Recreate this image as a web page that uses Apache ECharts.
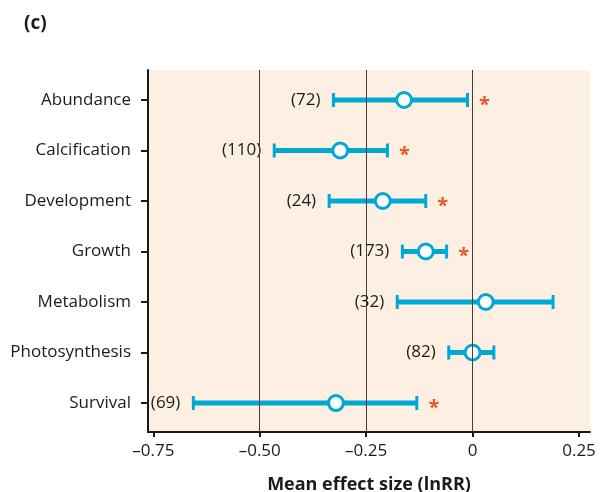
<!DOCTYPE html>
<html><head><meta charset="utf-8">
<script src="https://cdn.jsdelivr.net/npm/echarts@6/dist/echarts.min.js"></script>
<style>html,body{margin:0;padding:0;background:#fff}#c{width:613px;height:492px}</style>
</head><body><div id="c"></div>
<script>
const categories = ['Abundance','Calcification','Development','Growth','Metabolism','Photosynthesis','Survival'];
const meanValues = [-0.161, -0.311, -0.211, -0.110, 0.031, 0.000, -0.321];
const lowerValues = [-0.327, -0.466, -0.337, -0.165, -0.177, -0.056, -0.656];
const upperValues = [-0.012, -0.200, -0.110, -0.061, 0.189, 0.050, -0.131];
const sampleSizes = [72, 110, 24, 173, 32, 82, 69];
const significant = [true, true, true, true, false, false, true];
const xTicks = [-0.75, -0.5, -0.25, 0, 0.25];
const gridLines = [-0.5, -0.25, 0];

const FONT = 'Open Sans';
const BLUE = '#00a8d4';
const TXT = '#1e1a1b';
const n = categories.length;
const yPos = i => n - 1 - i;

const data = categories.map((c, i) => [lowerValues[i], upperValues[i], meanValues[i], yPos(i), sampleSizes[i], significant[i] ? 1 : 0]);

const chart = echarts.init(document.getElementById('c'), null, {renderer: 'canvas'});
chart.setOption({
  animation: false,
  backgroundColor: '#fff',
  title: {text: '(c)', left: 19, top: 9, textStyle: {fontFamily: FONT, fontSize: 19, fontWeight: 'bold', color: TXT}},
  grid: {left: 148, right: 23, top: 70, bottom: 60, show: true, backgroundColor: '#fdf0e3', borderWidth: 0,
    containLabel: false, outerBoundsMode: 'none'},
  xAxis: {
    type: 'value', min: -0.7625, max: 0.2758,
    axisLine: {show: true, onZero: false, lineStyle: {color: '#1a1a1a', width: 2}},
    axisTick: {show: true, length: 5, lineStyle: {color: '#1a1a1a', width: 2}, customValues: xTicks},
    axisLabel: {customValues: xTicks, fontFamily: FONT, fontSize: 17, color: TXT, margin: 11,
      formatter: v => v === 0 ? '0' : (v < 0 ? '\u2013' + Math.abs(v).toFixed(2) : v.toFixed(2))},
    splitLine: {show: false},
    name: 'Mean effect size (lnRR)', nameLocation: 'middle', nameGap: 44,
    nameTextStyle: {fontFamily: FONT, fontSize: 18, fontWeight: 'bold', color: TXT, verticalAlign: 'top'}
  },
  yAxis: {
    type: 'value', min: -0.574, max: 6.594,
    axisLine: {show: true, onZero: false, lineStyle: {color: '#1a1a1a', width: 2}},
    axisTick: {show: true, length: 7, lineStyle: {color: '#1a1a1a', width: 2}, customValues: [0,1,2,3,4,5,6]},
    axisLabel: {customValues: [0,1,2,3,4,5,6], fontFamily: FONT, fontSize: 17, color: TXT, margin: 17,
      formatter: v => categories[n - 1 - Math.round(v)]},
    splitLine: {show: false}
  },
  series: [{
    type: 'line', data: [], silent: true,
    markLine: {silent: true, symbol: 'none', label: {show: false},
      lineStyle: {color: '#4b3d33', width: 1, type: 'solid'},
      data: gridLines.map(v => ({xAxis: v}))}
  }, {
    type: 'custom', data: data, silent: true,
    renderItem: (params, api) => {
      const lo = api.coord([api.value(0), api.value(3)]);
      const hi = api.coord([api.value(1), api.value(3)]);
      const mid = api.coord([api.value(2), api.value(3)]);
      const y = lo[1];
      const children = [
        {type: 'line', shape: {x1: lo[0], y1: y, x2: hi[0], y2: y}, style: {stroke: BLUE, lineWidth: 5}},
        {type: 'line', shape: {x1: lo[0], y1: y - 7, x2: lo[0], y2: y + 7}, style: {stroke: BLUE, lineWidth: 3}},
        {type: 'line', shape: {x1: hi[0], y1: y - 7, x2: hi[0], y2: y + 7}, style: {stroke: BLUE, lineWidth: 3}},
        {type: 'circle', shape: {cx: mid[0], cy: y, r: 7.5}, style: {fill: '#fff', stroke: BLUE, lineWidth: 3}},
        {type: 'text', style: {text: '(' + api.value(4) + ')', x: lo[0] - 13, y: y, align: 'right', verticalAlign: 'middle',
          fontFamily: FONT, fontSize: 17, fill: TXT}}
      ];
      if (api.value(5)) {
        children.push({type: 'text', style: {text: '*', x: hi[0] + 17, y: y + 5, align: 'center', verticalAlign: 'middle',
          fontFamily: FONT, fontSize: 20, fontWeight: 'bold', fill: '#e8572a'}});
      }
      return {type: 'group', children};
    }
  }]
});
</script></body></html>
